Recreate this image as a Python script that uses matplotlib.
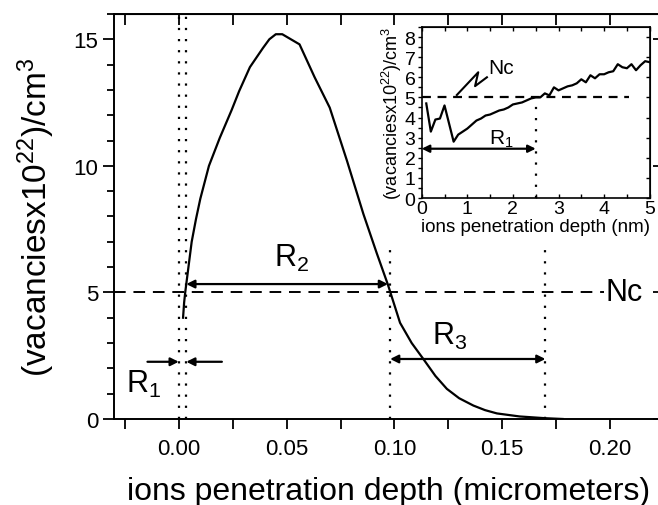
import numpy as np
import matplotlib
matplotlib.use('Agg')
import matplotlib.pyplot as plt
from matplotlib.ticker import MultipleLocator

plt.rcParams['font.family'] = ['Liberation Sans', 'DejaVu Sans']
plt.rcParams['mathtext.fontset'] = 'custom'
plt.rcParams['mathtext.rm'] = 'Liberation Sans'
plt.rcParams['mathtext.it'] = 'Liberation Sans:italic'

# --- main profile (micrometers, vacancies x1e22 / cm3) ---
depth_um = [0.0020, 0.0025, 0.0030, 0.0045, 0.0060, 0.0080, 0.0100, 0.0140,
            0.0190, 0.0245, 0.0280, 0.0330, 0.0390, 0.0420, 0.0450, 0.0480,
            0.0510, 0.0560, 0.0630, 0.0700, 0.0780, 0.0856, 0.0918, 0.0970,
            0.1026, 0.1080, 0.1134, 0.1190, 0.1243, 0.1300, 0.1366, 0.1420,
            0.1475, 0.1580, 0.1700, 0.1780]
vac_main = [4.0, 4.6, 5.0, 6.0, 7.0, 7.9, 8.7, 10.0,
            11.1, 12.2, 12.95, 13.9, 14.65, 15.0, 15.2, 15.2,
            15.05, 14.8, 13.5, 12.3, 10.2, 8.1, 6.55, 5.3,
            3.8, 3.0, 2.37, 1.7, 1.19, 0.82, 0.53, 0.35,
            0.22, 0.1, 0.03, 0.0]

# --- inset: first nanometers ---
depth_nm = [0.1, 0.2, 0.3, 0.4, 0.5, 0.6, 0.7, 0.8, 0.9, 1.0,
            1.1, 1.2, 1.3, 1.4, 1.5, 1.6, 1.7, 1.8, 1.9, 2.0,
            2.1, 2.2, 2.3, 2.4, 2.5, 2.6, 2.7, 2.8, 2.9, 3.0,
            3.1, 3.2, 3.3, 3.4, 3.5, 3.6, 3.7, 3.8, 3.9, 4.0,
            4.1, 4.2, 4.3, 4.4, 4.5, 4.6, 4.7, 4.8, 4.9, 5.0]
vac_inset = [4.7, 3.3, 3.9, 3.95, 4.6, 3.7, 2.8, 3.15, 3.3, 3.45,
             3.65, 3.85, 3.95, 4.1, 4.15, 4.25, 4.35, 4.4, 4.5, 4.65,
             4.7, 4.75, 4.85, 4.95, 5.0, 5.0, 5.2, 5.1, 5.5, 5.35,
             5.45, 5.55, 5.6, 5.7, 5.9, 5.75, 6.1, 5.95, 6.15, 6.15,
             6.25, 6.3, 6.65, 6.5, 6.45, 6.65, 6.35, 6.6, 6.8, 6.75]

Nc = 5
R1_um = 0.0035
R2_end = 0.098
R3_end = 0.17
R1_nm = 2.5

fig = plt.figure(figsize=(6.58, 5.06), dpi=100)
ax = fig.add_axes([0.1733, 0.1700, 0.8359, 0.8004])

ax.plot(depth_um, vac_main, color='k', lw=1.6)
ax.set_xlim(-0.03, 0.225)
ax.set_ylim(0, 16)

dot = (0, (1, 4))
ax.plot([0, 0], [0, 16], color='k', lw=1.6, ls=dot)
ax.plot([R1_um, R1_um], [0, 16], color='k', lw=1.6, ls=dot)
ax.plot([R2_end, R2_end], [0, 7.0], color='k', lw=1.6, ls=dot)
ax.plot([R3_end, R3_end], [0, 6.7], color='k', lw=1.6, ls=dot)
ax.plot([-0.03, 0.197], [Nc, Nc], color='k', lw=1.4, ls=(0, (6, 4)))
ax.text(0.1980, Nc, 'Nc', fontsize=22, va='center', ha='left')

arr2 = dict(arrowstyle='<|-|>', color='k', lw=1.6, mutation_scale=12,
            shrinkA=0, shrinkB=0)
arr1 = dict(arrowstyle='-|>', color='k', lw=1.6, mutation_scale=12,
            shrinkA=0, shrinkB=0)
ax.annotate('', xy=(R2_end - 0.001, 5.33), xytext=(R1_um, 5.33), arrowprops=arr2)
ax.annotate('', xy=(R3_end, 2.37), xytext=(R2_end, 2.37), arrowprops=arr2)
ax.annotate('', xy=(0, 2.26), xytext=(-0.0145, 2.26), arrowprops=arr1)
ax.annotate('', xy=(R1_um, 2.26), xytext=(0.02, 2.26), arrowprops=arr1)
ax.text(0.0525, 6.4, 'R$_2$', fontsize=22, ha='center', va='center')
ax.text(0.1255, 3.3, 'R$_3$', fontsize=22, ha='center', va='center')
ax.text(-0.0165, 1.4, 'R$_1$', fontsize=22, ha='center', va='center')

ax.set_xticks([0.0, 0.05, 0.10, 0.15, 0.20])
ax.set_xticklabels(['0.00', '0.05', '0.10', '0.15', '0.20'])
ax.xaxis.set_minor_locator(MultipleLocator(0.025))
ax.set_yticks([0, 5, 10, 15])
ax.yaxis.set_minor_locator(MultipleLocator(1))
ax.tick_params(axis='both', which='both', labelsize=16, width=1.3)
ax.tick_params(axis='x', which='both', length=7, direction='out', pad=7)
ax.tick_params(axis='y', which='major', length=8, direction='out')
ax.tick_params(axis='y', which='minor', length=5, direction='out')
for sp in ax.spines.values():
    sp.set_linewidth(1.4)
ax.set_xlabel('ions penetration depth (micrometers)', fontsize=23, labelpad=12)
ax.set_ylabel('(vacanciesx10$^{22}$)/cm$^3$', fontsize=24, labelpad=12)

# mirrored ticks pointing inward on top and right
top = ax.secondary_xaxis('top')
top.set_xticks(np.arange(-0.025, 0.226, 0.025))
top.tick_params(direction='in', length=8, width=1.3, labeltop=False)
right = ax.secondary_yaxis('right')
right.set_yticks([0, 5, 10, 15])
right.tick_params(direction='in', length=8, width=1.3, labelright=False)

# inset
ins = fig.add_axes([0.6409, 0.6067, 0.3465, 0.3380])
ins.plot(depth_nm, vac_inset, color='k', lw=1.6)
ins.set_xlim(0, 5)
ins.set_ylim(0, 8.5)
ins.plot([0, 4.55], [Nc, Nc], color='k', lw=1.6, ls=(0, (4, 3)))
ins.plot([R1_nm, R1_nm], [0, Nc], color='k', lw=1.6, ls=(0, (1, 4)))
ins.annotate('', xy=(R1_nm, 2.45), xytext=(0, 2.45),
             arrowprops=dict(arrowstyle='<|-|>', color='k', lw=1.6,
                             mutation_scale=11, shrinkA=0, shrinkB=0))
ins.text(1.75, 2.95, 'R$_1$', fontsize=15, ha='center', va='center')
ins.plot([0.77, 1.24, 1.17, 1.43], [5.12, 6.25, 5.56, 6.0], color='k', lw=1.5)
ins.text(1.45, 6.5, 'Nc', fontsize=15, ha='left', va='center')
ins.set_xticks(range(0, 6))
ins.set_yticks(range(0, 9))
ins.xaxis.set_minor_locator(MultipleLocator(0.5))
ins.yaxis.set_minor_locator(MultipleLocator(0.5))
ins.tick_params(axis='both', which='both', labelsize=14, width=1.0, pad=1.5)
ins.tick_params(axis='x', which='both', direction='in', length=3)
ins.tick_params(axis='y', which='both', direction='out', length=3)
for sp in ins.spines.values():
    sp.set_linewidth(1.2)
ins.set_xlabel('ions penetration depth (nm)', fontsize=13.5, labelpad=1)
ins.set_ylabel('(vacanciesx10$^{22}$)/cm$^3$', fontsize=13, labelpad=0)
itop = ins.secondary_xaxis('top')
itop.set_xticks(np.arange(0, 5.01, 0.5))
itop.tick_params(direction='in', length=3, width=1.0, labeltop=False)
iright = ins.secondary_yaxis('right')
iright.set_yticks(np.arange(0, 8.51, 1))
iright.tick_params(direction='in', length=3, width=1.0, labelright=False)

fig.savefig('out.png', dpi=100)
